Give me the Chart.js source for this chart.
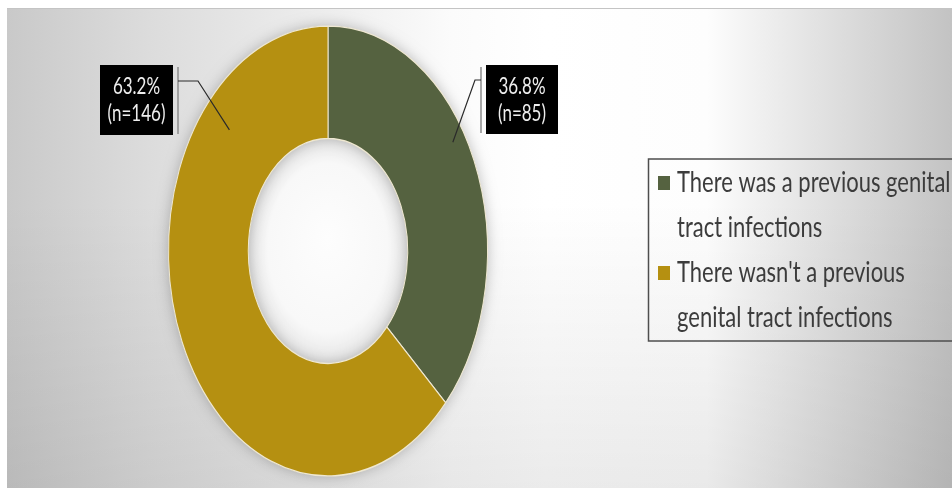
<!DOCTYPE html>
<html>
<head>
<meta charset="utf-8">
<script src="https://cdn.jsdelivr.net/npm/chart.js@4.4.1/dist/chart.umd.min.js"></script>
<style>
  html, body { margin: 0; padding: 0; background: #fff; }
  #wrap { position: relative; width: 952px; height: 488px; overflow: hidden; }
  #panel {
    position: absolute; left: 7px; top: 8px; right: 0; bottom: 0;
    border-top: 1px solid #c4c4c4;
    background:
      linear-gradient(to bottom, rgba(0,0,0,0) 40%, rgba(0,0,0,0.08) 100%),
      linear-gradient(to right, #c9c9c9 0%, #dcdcdc 15%, #efefef 35%, #fbfbfb 47%, #ffffff 57%, #fdfdfd 74%, #e6e6e6 84%, #c3c3c3 100%);
  }
  #chart { position: absolute; left: 0; top: 0; }
</style>
</head>
<body>
<div id="wrap">
  <div id="panel"></div>
  <canvas id="chart" width="952" height="488"></canvas>
</div>
<script>
// survey answers
const categories = [
  'There was a previous genital tract infections',
  "There wasn't a previous genital tract infections"
];
const counts = [85, 146];
const sliceColors = ['#556240', '#b59011'];

// the doughnut is drawn taller than wide; text gets a milder stretch
const Y_STRETCH = 1.41;
const TEXT_STRETCH = 1.3;
const FONT = 'Lato, "Liberation Sans", sans-serif';

// callout boxes: box rect, bracket side, elbow length, where the leader meets the slice
const calloutLayout = [
  { box: [486, 65, 72, 69], bracketX: 481, elbowX: 475, elbowY: 80, angleFrac: 0.44, radiusFrac: 0.84 },
  { box: [100, 65, 73, 70], bracketX: 178, elbowX: 198, elbowY: 81, angleFrac: 0.785, radiusFrac: 0.64 }
];

function drawStretchedText(ctx, text, x, y, font, color, align) {
  ctx.save();
  ctx.translate(x, y);
  ctx.scale(1, TEXT_STRETCH);
  ctx.font = font;
  ctx.fillStyle = color;
  ctx.textAlign = align || 'left';
  ctx.textBaseline = 'middle';
  ctx.fillText(text, 0, 0);
  ctx.restore();
}

// squash the doughnut into an ellipse, give it a soft shadow and a pale hole
const ellipsePlugin = {
  id: 'ellipse',
  beforeDatasetsDraw(chart) {
    const ctx = chart.ctx;
    const arc = chart.getDatasetMeta(0).data[0];
    const cx = arc.x, cy = arc.y;
    ctx.save();
    ctx.translate(cx, cy);
    ctx.scale(1, Y_STRETCH);
    ctx.translate(-cx, -cy);

    ctx.save();
    const hole = ctx.createRadialGradient(cx, cy - 10, 0, cx, cy, arc.innerRadius);
    hole.addColorStop(0, '#fdfdfd');
    hole.addColorStop(0.75, '#f8f8f8');
    hole.addColorStop(1, '#e6e6e6');
    ctx.beginPath();
    ctx.arc(cx, cy, arc.innerRadius, 0, Math.PI * 2);
    ctx.fillStyle = hole;
    ctx.fill();

    ctx.shadowColor = 'rgba(0,0,0,0.25)';
    ctx.shadowBlur = 14;
    ctx.beginPath();
    ctx.arc(cx, cy, arc.outerRadius, 0, Math.PI * 2);
    ctx.arc(cx, cy, arc.innerRadius, Math.PI * 2, 0, true);
    ctx.closePath();
    ctx.fillStyle = '#8a8a70';
    ctx.fill();
    ctx.restore();
  },
  afterDatasetsDraw(chart) {
    chart.ctx.restore();
  }
};

// black value boxes with leader lines
const calloutPlugin = {
  id: 'callouts',
  afterDraw(chart) {
    const ctx = chart.ctx;
    const total = counts.reduce((a, b) => a + b, 0);
    chart.getDatasetMeta(0).data.forEach((arc, i) => {
      const lay = calloutLayout[i];
      const a = arc.startAngle + lay.angleFrac * (arc.endAngle - arc.startAngle);
      const r = arc.innerRadius + lay.radiusFrac * (arc.outerRadius - arc.innerRadius);
      const ax = arc.x + r * Math.cos(a);
      const ay = arc.y + r * Math.sin(a) * Y_STRETCH;
      const [bx, by, bw, bh] = lay.box;

      // bracket beside the box
      ctx.save();
      ctx.strokeStyle = '#8c8c8c';
      ctx.lineWidth = 1.5;
      ctx.beginPath();
      ctx.moveTo(lay.bracketX, by + 2);
      ctx.lineTo(lay.bracketX, by + bh - 1);
      ctx.stroke();

      // leader
      ctx.strokeStyle = '#2a2a2a';
      ctx.lineWidth = 1.2;
      ctx.beginPath();
      ctx.moveTo(lay.bracketX, lay.elbowY);
      ctx.lineTo(lay.elbowX, lay.elbowY);
      ctx.lineTo(ax, ay);
      ctx.stroke();

      ctx.fillStyle = '#000';
      ctx.fillRect(bx, by, bw, bh);
      ctx.restore();

      const pct = (counts[i] / total * 100).toFixed(1) + '%';
      const nText = '(n=' + counts[i] + ')';
      const mx = bx + bw / 2, my = by + bh / 2;
      drawStretchedText(ctx, pct, mx, my - 13, '17px ' + FONT, '#eeeeee', 'center');
      drawStretchedText(ctx, nText, mx, my + 14, '17px ' + FONT, '#eeeeee', 'center');
    });
  }
};

function wrapWords(ctx, text, maxWidth) {
  const words = text.split(' ');
  const lines = [];
  let line = '';
  words.forEach(w => {
    const test = line ? line + ' ' + w : w;
    if (line && ctx.measureText(test).width > maxWidth) {
      lines.push(line);
      line = w;
    } else {
      line = test;
    }
  });
  if (line) lines.push(line);
  return lines;
}

// boxed legend on the right, wrapping long labels
const legendPlugin = {
  id: 'boxLegend',
  afterDraw(chart) {
    const ctx = chart.ctx;
    const font = '22px ' + FONT;
    ctx.save();
    ctx.strokeStyle = '#4e4e4e';
    ctx.lineWidth = 1.5;
    ctx.strokeRect(648.5, 159, 330, 182);
    ctx.font = font;
    let y = 183;
    const step = 45;
    categories.forEach((label, i) => {
      ctx.fillStyle = sliceColors[i];
      ctx.fillRect(658, y - 7, 12, 14);
      wrapWords(ctx, label, 282).forEach(line => {
        drawStretchedText(ctx, line, 677, y, font, '#3c3c3c', 'left');
        ctx.font = font;
        y += step;
      });
    });
    ctx.restore();
  }
};

new Chart(document.getElementById('chart').getContext('2d'), {
  type: 'doughnut',
  data: {
    labels: categories,
    datasets: [{
      data: counts,
      backgroundColor: sliceColors,
      borderColor: '#efe8d2',
      borderWidth: 1,
      clip: false
    }]
  },
  options: {
    responsive: false,
    animation: false,
    events: [],
    cutout: '50%',
    layout: { padding: { left: 168, right: 464, top: 91, bottom: 77 } },
    plugins: {
      legend: { display: false },
      tooltip: { enabled: false }
    }
  },
  plugins: [ellipsePlugin, calloutPlugin, legendPlugin]
});
</script>
</body>
</html>
